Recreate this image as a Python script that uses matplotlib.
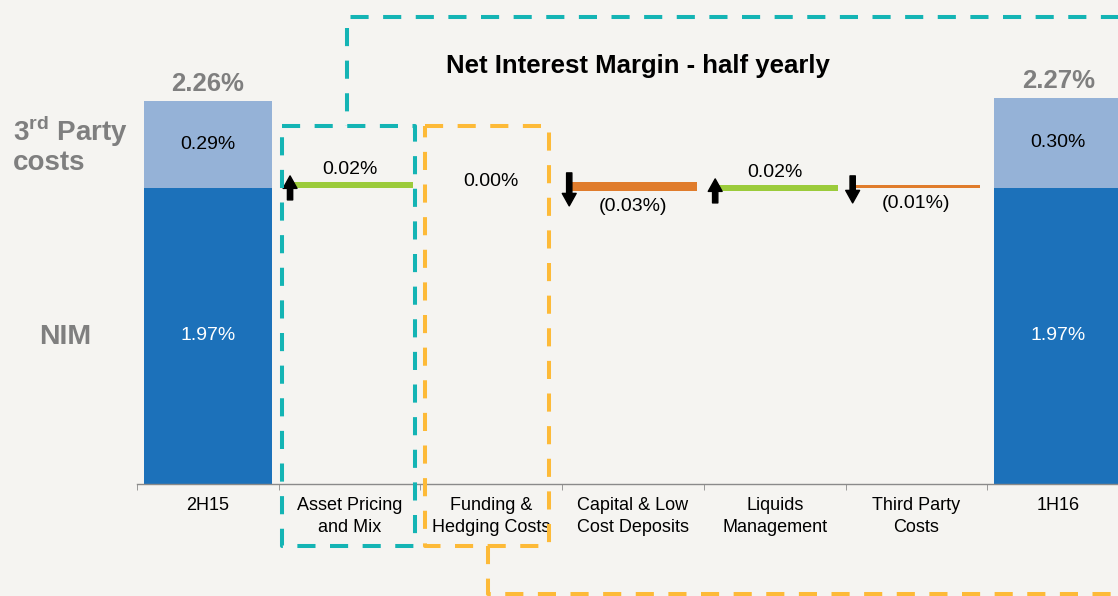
import matplotlib
matplotlib.use("Agg")
import matplotlib.pyplot as plt
from matplotlib.lines import Line2D
import numpy as np

# ---------------- data ----------------
categories = ["2H15", "Asset Pricing\nand Mix", "Funding &\nHedging Costs",
              "Capital & Low\nCost Deposits", "Liquids\nManagement",
              "Third Party\nCosts", "1H16"]
nim_values = [1.97, 1.97]            # 2H15, 1H16 NIM
third_party_values = [0.29, 0.30]    # 2H15, 1H16 3rd party costs
total_labels = ["2.26%", "2.27%"]
waterfall_deltas = [0.02, 0.00, -0.03, 0.02, -0.01]
waterfall_start = 1.97

# ---------------- style ----------------
BG = "#F5F4F1"
DARK = "#1C71BA"
LIGHT = "#95B2D7"
GREEN = "#9BCB3B"
ORANGE = "#E07C2C"
GREY = "#7F7F7F"
TEAL = "#14B4B4"
GOLD = "#FDBA38"

plt.rcParams['font.family'] = ['Liberation Sans', 'DejaVu Sans']
plt.rcParams['mathtext.fontset'] = 'custom'
plt.rcParams['mathtext.bf'] = 'Liberation Sans:bold'
plt.rcParams['mathtext.rm'] = 'Liberation Sans'

W, H = 1118, 596
fig = plt.figure(figsize=(W / 100, H / 100), dpi=100, facecolor=BG)

# main axes in pixel geometry
ax_left, ax_right, ax_bottom, ax_top = 137, 1129, 484, 0
ax = fig.add_axes([ax_left / W, (H - ax_bottom) / H,
                   (ax_right - ax_left) / W, (ax_bottom - ax_top) / H])
ax.set_facecolor("none")
ymin = 0.983
ax.set_xlim(-0.5, len(categories) - 0.5)
ax.set_ylim(ymin, ymin + (ax_bottom - ax_top) / 300.0)

bw = 0.9
ends = [0, len(categories) - 1]
for k, xi in enumerate(ends):
    ax.bar(xi, nim_values[k], width=bw, color=DARK, linewidth=0, zorder=2)
    ax.bar(xi, third_party_values[k], bottom=nim_values[k], width=bw,
           color=LIGHT, linewidth=0, zorder=2)
    ax.text(xi, (ymin + nim_values[k]) / 2, f"{nim_values[k]:.2f}%",
            ha="center", va="center", color="white", fontsize=14, zorder=3)
    ax.text(xi, nim_values[k] + third_party_values[k] / 2,
            f"{third_party_values[k]:.2f}%", ha="center", va="center",
            color="black", fontsize=14, zorder=3)
    ax.annotate(total_labels[k], (xi, nim_values[k] + third_party_values[k]),
                xytext=(0, 12), textcoords="offset points", ha="center",
                va="center", fontsize=18.5, fontweight="bold", color=GREY)

arrow_style = "simple,head_width=1.0,head_length=0.9,tail_width=0.38"

# waterfall
level = waterfall_start
for j, d in enumerate(waterfall_deltas):
    xi = j + 1
    bottom = level
    top = level + d
    col = GREEN if d > 0 else ORANGE
    if d != 0:
        ax.bar(xi, d, bottom=bottom, width=bw, color=col, linewidth=0, zorder=2)
    hi, lo = max(bottom, top), min(bottom, top)
    if d > 0:
        ax.annotate(f"{d:.2f}%", (xi, hi), xytext=(0, 9),
                    textcoords="offset points", ha="center", va="center",
                    fontsize=14, color="black")
        ax.annotate("", xy=(xi - bw / 2 + 0.03, hi + 0.02),
                    xytext=(xi - bw / 2 + 0.03, lo - 0.04),
                    arrowprops=dict(arrowstyle=arrow_style,
                                    color="black", shrinkA=0, shrinkB=0,
                                    mutation_scale=10), zorder=4)
    elif d < 0:
        ax.annotate(f"({abs(d):.2f}%)", (xi, lo), xytext=(0, -11),
                    textcoords="offset points", ha="center", va="center",
                    fontsize=14, color="black")
        ax.annotate("", xy=(xi - bw / 2, lo - 0.05),
                    xytext=(xi - bw / 2, hi + 0.03),
                    arrowprops=dict(arrowstyle=arrow_style,
                                    color="black", shrinkA=0, shrinkB=0,
                                    mutation_scale=10), zorder=4)
    else:
        ax.text(xi, level, f"{d:.2f}%", ha="center", va="center",
                fontsize=14, color="black")
    level = top

# axes styling
for s in ["left", "right", "top"]:
    ax.spines[s].set_visible(False)
ax.spines["bottom"].set_color("#8A8A8A")
ax.spines["bottom"].set_linewidth(1.0)
ax.set_yticks([])
ax.set_xticks(range(len(categories)))
ax.set_xticklabels(categories, fontsize=13, linespacing=1.45)
ax.tick_params(axis="x", which="major", length=0, pad=9)
ax.set_xticks(np.arange(-0.5, len(categories), 1.0), minor=True)
ax.tick_params(axis="x", which="minor", length=4, color="#8A8A8A", direction="out")

# left side labels
fig.text(13 / W, 1 - 131 / H, r"3$^{\mathbf{rd}}$ Party", ha="left", va="center",
         fontsize=20, fontweight="bold", color=GREY)
fig.text(13 / W, 1 - 163 / H, "costs", ha="left", va="center",
         fontsize=20, fontweight="bold", color=GREY)
fig.text(65 / W, 1 - 337 / H, "NIM", ha="center", va="center",
         fontsize=20.5, fontweight="bold", color=GREY)

# title
fig.text(638 / W, 1 - 66 / H, "Net Interest Margin - half yearly",
         ha="center", va="center", fontsize=18.5, fontweight="bold",
         color="black")

# dashed callout boxes (overlay in pixel space)
ov = fig.add_axes([0, 0, 1, 1])
ov.set_xlim(0, W)
ov.set_ylim(H, 0)
ov.axis("off")
ov.set_facecolor("none")
dash = (0, (4.5, 3.6))
lw = 2.9

def dline(xs, ys, color):
    ov.add_line(Line2D(xs, ys, color=color, lw=lw, linestyle=dash,
                       dash_capstyle="butt", solid_capstyle="butt"))

dline([1125, 347, 347], [17, 17, 126], TEAL)
dline([282, 415, 415, 282, 282], [126, 126, 546, 546, 126], TEAL)
dline([425, 549, 549, 425, 425], [126, 126, 546, 546, 126], GOLD)
dline([488, 488, 1125], [546, 594, 594], GOLD)

fig.savefig("out.png", dpi=100, facecolor=BG)
